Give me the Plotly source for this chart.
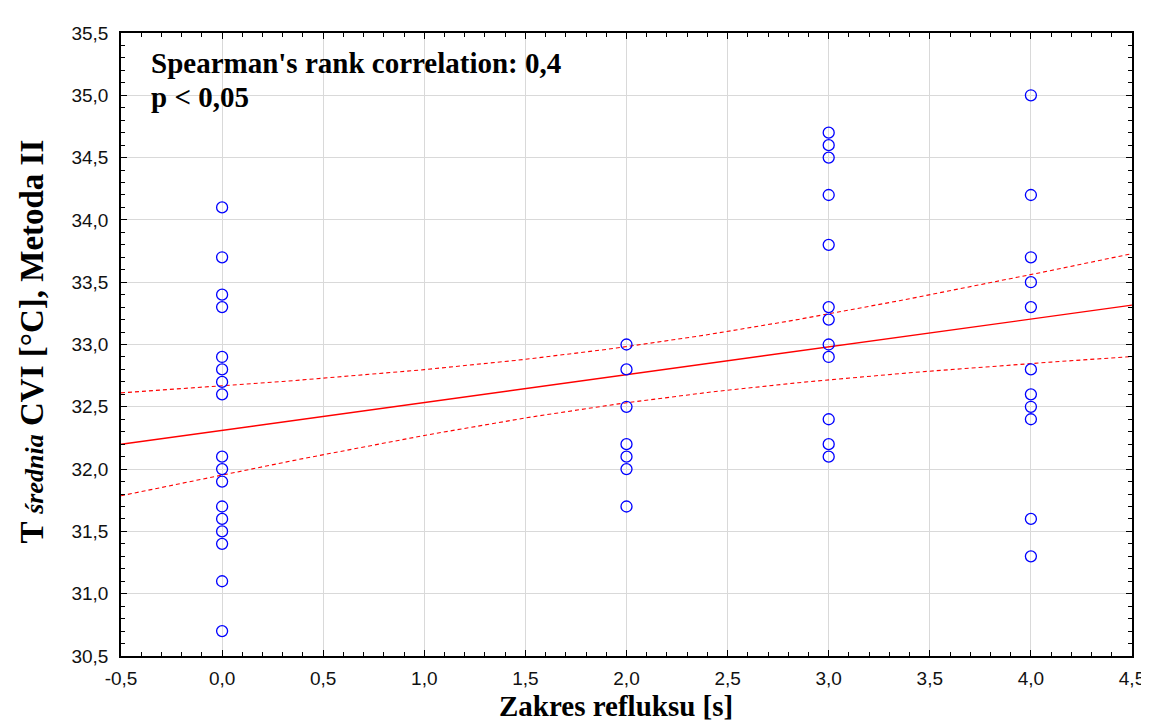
import numpy as np
import plotly.graph_objects as go

# ---- data ----
x_groups = [0.0, 2.0, 3.0, 4.0]
y_at_0 = [34.1, 33.7, 33.4, 33.3, 32.9, 32.8, 32.7, 32.6, 32.1, 32.0, 31.9,
          31.7, 31.6, 31.5, 31.4, 31.1, 30.7]
y_at_2 = [33.0, 32.8, 32.5, 32.2, 32.1, 32.0, 31.7]
y_at_3 = [34.7, 34.6, 34.5, 34.2, 33.8, 33.3, 33.2, 33.0, 32.9, 32.4, 32.2, 32.1]
y_at_4 = [35.0, 34.2, 33.7, 33.5, 33.3, 32.8, 32.6, 32.5, 32.4, 31.6, 31.3]

# half-width of the confidence band at the mean of x
band_halfwidth_at_mean = 0.225

x_tick_vals = [-0.5, 0.0, 0.5, 1.0, 1.5, 2.0, 2.5, 3.0, 3.5, 4.0, 4.5]
x_tick_text = ["-0,5", "0,0", "0,5", "1,0", "1,5", "2,0", "2,5", "3,0", "3,5", "4,0", "4,5"]
y_tick_vals = [30.5, 31.0, 31.5, 32.0, 32.5, 33.0, 33.5, 34.0, 34.5, 35.0, 35.5]
y_tick_text = ["30,5", "31,0", "31,5", "32,0", "32,5", "33,0", "33,5", "34,0", "34,5", "35,0", "35,5"]

annot_line1 = "Spearman's rank correlation: 0,4"
annot_line2 = "p < 0,05"
x_title = "Zakres refluksu [s]"
y_title = "T <i><span style='font-size:26px'>średnia</span></i> CVI [°C], Metoda II"

# ---- assemble ----
groups = [y_at_0, y_at_2, y_at_3, y_at_4]
xs = np.concatenate([[gx] * len(g) for gx, g in zip(x_groups, groups)])
ys = np.concatenate(groups)

# linear regression, band shape of a confidence band for the mean
n = len(xs)
slope, intercept = np.polyfit(xs, ys, 1)
xbar = xs.mean()
sxx = np.sum((xs - xbar) ** 2)
xl = np.linspace(-0.5, 4.5, 101)
yl = slope * xl + intercept
half = band_halfwidth_at_mean * np.sqrt(1.0 + n * (xl - xbar) ** 2 / sxx)

fig = go.Figure()
fig.add_trace(go.Scatter(x=xl, y=yl + half, mode="lines",
                         line=dict(color="#ff0000", width=1.1, dash="4px,3px"),
                         hoverinfo="skip", showlegend=False))
fig.add_trace(go.Scatter(x=xl, y=yl - half, mode="lines",
                         line=dict(color="#ff0000", width=1.1, dash="4px,3px"),
                         hoverinfo="skip", showlegend=False))
fig.add_trace(go.Scatter(x=xl, y=yl, mode="lines",
                         line=dict(color="#ff0000", width=1.4),
                         hoverinfo="skip", showlegend=False))
fig.add_trace(go.Scatter(x=xs, y=ys, mode="markers",
                         marker=dict(symbol="circle-open", size=11,
                                     color="#0000ff", line=dict(width=1.3, color="#0000ff")),
                         showlegend=False))

tick_font = dict(family="Liberation Sans, Arial", size=19, color="#111111")
serif = "Liberation Serif, Times New Roman"

common = dict(tickfont=tick_font, showgrid=True, gridcolor="#d9d9d9", gridwidth=1.2,
              showline=True, linecolor="#000000", linewidth=1.6, mirror="allticks",
              ticks="inside", ticklen=6, tickcolor="#000000", tickwidth=1,
              minor=dict(dtick=0.1, ticks="inside", ticklen=4, tickcolor="#000000",
                         tickwidth=1, showgrid=False),
              zeroline=False)
fig.update_xaxes(range=[-0.5, 4.5], tickvals=x_tick_vals, ticktext=x_tick_text,
                 ticklabelstandoff=4, **common)
fig.update_yaxes(range=[30.5, 35.5], tickvals=y_tick_vals, ticktext=y_tick_text,
                 ticklabelstandoff=7, **common)

fig.add_annotation(text="<b>" + annot_line1 + "</b>", xref="paper", yref="paper",
                   x=0.028, y=0.952, xanchor="left", yanchor="middle", showarrow=False,
                   font=dict(family=serif, size=29, color="#000000"))
fig.add_annotation(text="<b>" + annot_line2 + "</b>", xref="paper", yref="paper",
                   x=0.028, y=0.897, xanchor="left", yanchor="middle", showarrow=False,
                   font=dict(family=serif, size=29, color="#000000"))

# axis titles
fig.add_annotation(text="<b>" + x_title + "</b>", xref="paper", yref="paper",
                   x=0.49, y=-0.08, xanchor="center", yanchor="middle", showarrow=False,
                   font=dict(family=serif, size=29, color="#000000"))
fig.add_annotation(text="<b>" + y_title + "</b>", xref="paper", yref="paper",
                   x=-0.088, y=0.505, xanchor="center", yanchor="middle", showarrow=False,
                   textangle=-90,
                   font=dict(family=serif, size=33, color="#000000"))

fig.update_layout(width=1149, height=722,
                  margin=dict(l=113, r=16, t=25, b=74),
                  paper_bgcolor="#ffffff", plot_bgcolor="#ffffff",
                  showlegend=False)

fig.write_html("out.html")
